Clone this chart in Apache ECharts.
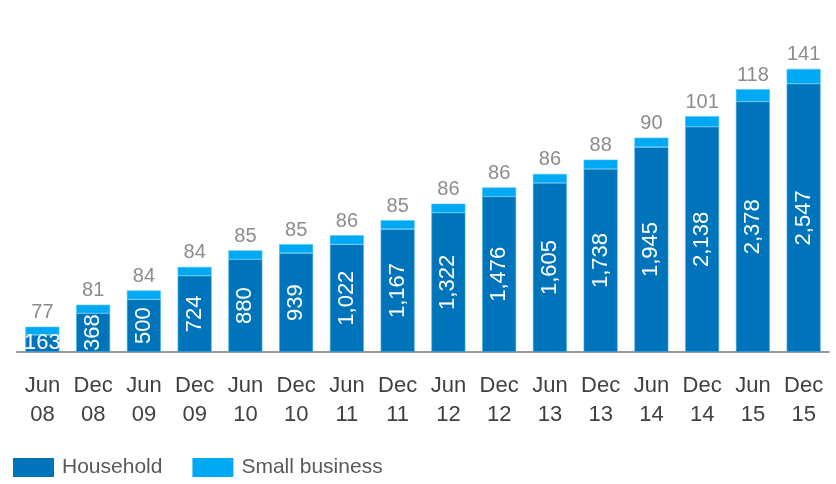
<!DOCTYPE html>
<html><head><meta charset="utf-8">
<script src="https://cdn.jsdelivr.net/npm/echarts@6/dist/echarts.min.js"></script>
<style>html,body{margin:0;padding:0;background:#fff}#c{width:836px;height:484px}</style>
</head><body><div id="c"></div>
<script>
const categories = ['Jun\n08','Dec\n08','Jun\n09','Dec\n09','Jun\n10','Dec\n10','Jun\n11','Dec\n11','Jun\n12','Dec\n12','Jun\n13','Dec\n13','Jun\n14','Dec\n14','Jun\n15','Dec\n15'];
const household = [163,368,500,724,880,939,1022,1167,1322,1476,1605,1738,1945,2138,2378,2547];
const smallBusiness = [77,81,84,84,85,85,86,85,86,86,86,88,90,101,118,141];

const FONT = "'Liberation Sans Narrow', 'Arial Narrow', 'Liberation Sans', sans-serif";
const chart = echarts.init(document.getElementById('c'));
const fmt = v => v.toLocaleString('en-US');
chart.setOption({
  animation: false,
  grid: {left: 17, right: 7, top: 36, bottom: 132},
  legend: {
    left: 13, top: 457, padding: 0, itemWidth: 41, itemHeight: 19, itemGap: 30,
    icon: 'rect',
    itemStyle: {borderWidth: 0},
    textStyle: {fontFamily: FONT, fontSize: 21, color: '#595959', padding: [0,0,0,3]},
    data: ['Household','Small business']
  },
  xAxis: {
    type: 'category', data: categories,
    axisLine: {lineStyle: {color: '#999999', width: 2}},
    axisTick: {show: false},
    axisLabel: {interval: 0, fontFamily: FONT, fontSize: 22, color: '#404040', lineHeight: 29, margin: 19}
  },
  yAxis: {type: 'value', min: 0, max: 3000, show: false, splitLine: {show: false}},
  series: [
    {
      name: 'Household', type: 'bar', stack: 't', barCategoryGap: '33%',
      itemStyle: {color: '#0074BB', borderColor: '#4FB3E8', borderWidth: 0.6},
      data: household.map((v, i) => ({
        value: v,
        label: i === 0 ? {rotate: 0} : {}
      })),
      label: {
        show: true, position: 'inside', rotate: 90, color: '#fff',
        fontFamily: FONT, fontSize: 22,
        formatter: p => fmt(p.value)
      }
    },
    {
      name: 'Small business', type: 'bar', stack: 't',
      itemStyle: {color: '#00A9F4', borderColor: '#4FC3F5', borderWidth: 0.6},
      data: smallBusiness,
      label: {
        show: true, position: 'top', color: '#8c8c8c', distance: 4,
        fontFamily: FONT, fontSize: 20,
        formatter: p => fmt(p.value)
      }
    }
  ]
});
</script></body></html>
